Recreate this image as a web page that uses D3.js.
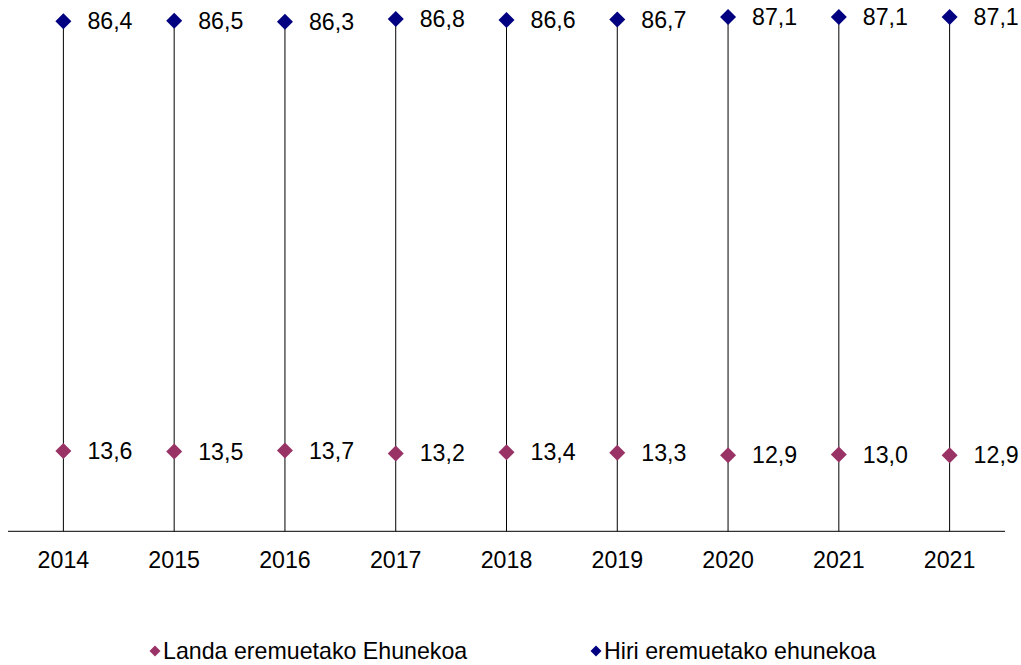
<!DOCTYPE html>
<html><head><meta charset="utf-8">
<script src="https://cdn.jsdelivr.net/npm/d3@7"></script>
<style>body{margin:0;background:#fff}svg{display:block}text{font-family:"Liberation Sans",Arial,sans-serif}</style>
</head><body>
<svg id="c" width="1021" height="665"></svg>
<script>
const categories = ["2014","2015","2016","2017","2018","2019","2020","2021","2021"];
const landa = [13.6,13.5,13.7,13.2,13.4,13.3,12.9,13.0,12.9];
const hiri = [86.4,86.5,86.3,86.8,86.6,86.7,87.1,87.1,87.1];
const seriesNames = ["Landa eremuetako Ehunekoa","Hiri eremuetako ehunekoa"];
const colors = ["#993366","#000080"];

const svg = d3.select("#c");
const idx = d3.range(categories.length);
const x = d3.scaleBand().domain(idx).range([8,1005]);
const y = d3.scaleLinear().domain([0,90]).range([531.3,0]);
const cx = i => x(i) + x.bandwidth()/2;
const fmt = v => d3.format(".1f")(v).replace(".", ",");
const FS = 23.2;

// drop lines
svg.append("g").selectAll("line").data(idx).join("line")
  .attr("x1", cx).attr("x2", cx)
  .attr("y1", i => y(Math.max(hiri[i], landa[i]))).attr("y2", y(0))
  .attr("stroke","#000").attr("stroke-width",1);

// x axis
const xa = svg.append("g").attr("transform",`translate(0,${y(0)})`)
  .call(d3.axisBottom(x).tickSize(0).tickFormat(i => categories[i]));
xa.select(".domain").attr("stroke","#000").attr("d","M8,0H1005");
xa.selectAll("text").attr("font-size",FS).attr("fill","#000").attr("dy","0.35em").attr("y",29);

function drawDiamond(g, px, py, r, color){
  g.append("path").attr("d", `M${px},${py-r}L${px+r},${py}L${px},${py+r}L${px-r},${py}Z`).attr("fill", color);
}
[landa, hiri].forEach((vals, s) => {
  const g = svg.append("g");
  vals.forEach((v,i) => {
    drawDiamond(g, cx(i), y(v), 8, colors[s]);
    g.append("text").attr("x", cx(i)+24).attr("y", y(v)).attr("dy","0.35em")
      .attr("font-size",FS).attr("fill","#000").text(fmt(v));
  });
});

// legend
const leg = svg.append("g");
const legX = [155, 596];
seriesNames.forEach((n,s) => {
  drawDiamond(leg, legX[s], 651, 5.5, colors[s]);
  leg.append("text").attr("x", legX[s]+8).attr("y",651).attr("dy","0.35em")
    .attr("font-size",FS).attr("fill","#000").text(n);
});
</script>
</body></html>
